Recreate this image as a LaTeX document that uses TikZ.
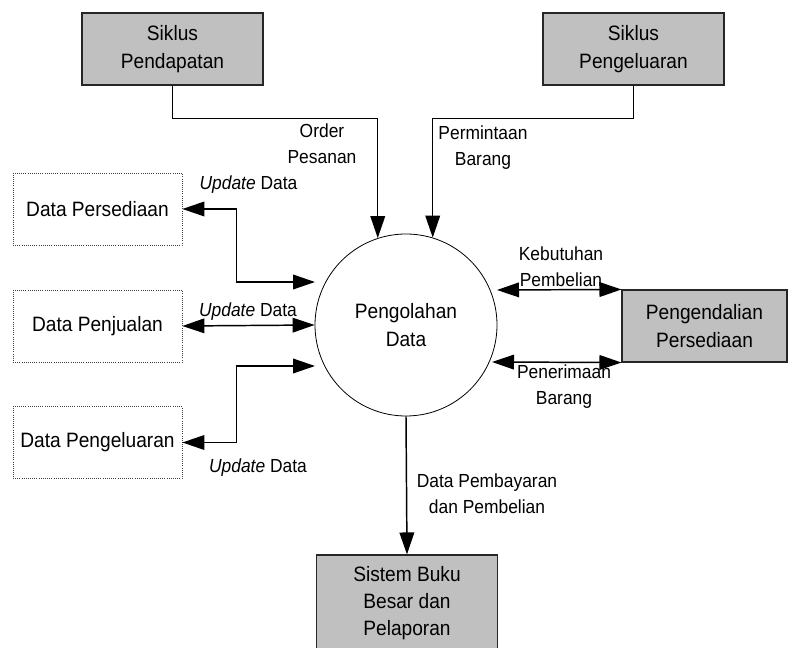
\documentclass[tikz,border=0pt]{standalone}
\usepackage{fontspec}
\setmainfont[FakeStretch=0.92]{Liberation Sans}
\usetikzlibrary{arrows.meta}
\definecolor{boxgray}{RGB}{192,192,192}
\newcommand{\boxtxt}{\fontsize{15.6pt}{20.5pt}\selectfont}
\newcommand{\lbltxt}{\fontsize{14.2pt}{19.5pt}\selectfont}
\begin{document}
\begin{tikzpicture}[x=0.75pt,y=-0.75pt,
    proc/.style={draw=black!85, line width=0.8pt, fill=boxgray, minimum width=135.75pt,
        minimum height=54pt, align=center, font=\boxtxt, inner sep=0pt},
    store/.style={draw=black!75, densely dotted, line width=0.6pt, minimum width=126.75pt,
        minimum height=54pt, align=center, font=\boxtxt, inner sep=0pt},
    flow/.style={-{Triangle[length=16.5pt,width=11pt]}, line width=1.1pt},
    flowboth/.style={{Triangle[length=16.5pt,width=11pt]}-{Triangle[length=16.5pt,width=11pt]}, line width=1.1pt},
    lbl/.style={font=\lbltxt, align=center, inner sep=0pt}]
            \clip (0,0) rectangle (789,648);
            \node[circle, draw, line width=0.6pt, minimum size=136.5pt, align=center, font=\boxtxt] (pd) at (406,325) {Pengolahan\\Data};

            \node[proc] (sp) at (172.5,49) {Siklus\\Pendapatan};
            \node[proc] (sk) at (633.5,49) {Siklus\\Pengeluaran};
            \node[store] (dp) at (97.5,209) {Data Persediaan};
            \node[store] (dj) at (97.5,326) {Data Penjualan};
            \node[store] (dg) at (97.5,442.5) {Data Pengeluaran};
            \node[proc, minimum width=123.75pt] (pp) at (704.5,326) {Pengendalian\\Persediaan};
            \node[proc, minimum height=72pt] (sb) at (407,603) {Sistem Buku\\Besar dan\\Pelaporan};

            % titik masuk dan keluar pada lingkaran
            \coordinate (in1) at (315,282);
            \coordinate (in3) at (315,366);
            \coordinate (out1) at (497,290);
            \coordinate (out2) at (492,362);

            \draw[flow] (sp.south) -- ++(0,33) -| (pd.108);
            \draw[flow] (sk.south) -- ++(0,33) -| (pd.73);
            \draw[flowboth] (dp.east) -- ++(54,0) |- (in1);
            \draw[flowboth] (dj.east) -- (pd.west);
            \draw[flowboth] (dg.east) -- ++(54,0) |- (in3);
            \draw[flowboth] (out1) -- (pp.north west);
            \draw[flowboth] (out2) -- (pp.south west);
            \draw[flow] (pd.south) -- (sb.north);

            \node[lbl] (l1) at (322,144) {Order\\Pesanan};
            \node[lbl] (l2) at (483,148) {Permintaan\\Barang};
            \node[lbl] (l3) at (248.5,185) {\textit{Update} Data};
            \node[lbl] (l4) at (248,312) {\textit{Update} Data};
            \node[lbl] (l5) at (258,468) {\textit{Update} Data};
            \node[lbl] (l6) at (561,267) {Kebutuhan\\Pembelian};
            \node[lbl] (l7) at (564,387) {Penerimaan\\Barang};
            \node[lbl] (l8) at (487,494) {Data Pembayaran\\dan Pembelian};
            \end{tikzpicture}
\end{document}
